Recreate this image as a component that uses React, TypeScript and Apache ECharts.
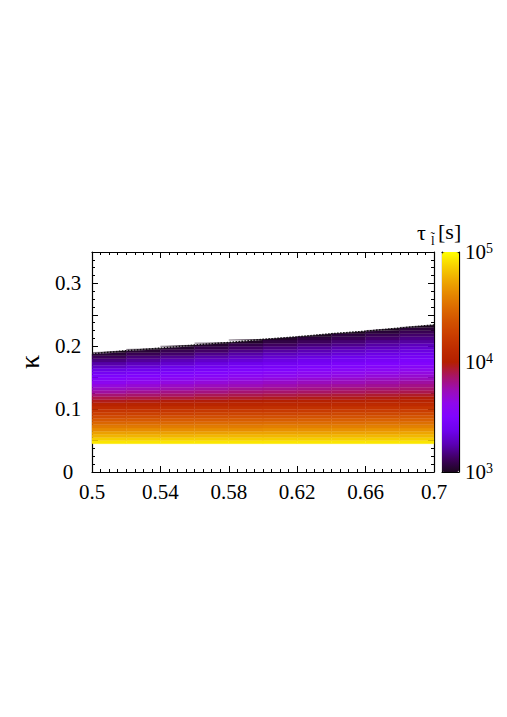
import React, { useEffect, useRef } from "react";
import * as echarts from "echarts";

// Column edges (x) and the upper boundary of the coloured region at each edge (kappa)
const xEdges = [0.5, 0.52, 0.54, 0.56, 0.58, 0.6, 0.62, 0.64, 0.66, 0.68, 0.7];
const kappaTop = [0.188, 0.193, 0.197, 0.202, 0.206, 0.211, 0.215, 0.22, 0.224, 0.229, 0.234];
const kappaBottom = 0.045;
const kappaStep = 0.005;

// log10(tau [s]) per column, rows from kappa = 0.045 upward in steps of 0.005
const logTauCols = [
  [4.93, 4.86, 4.78, 4.71, 4.63, 4.56, 4.48, 4.41, 4.33, 4.26, 4.19, 4.11, 4.04, 3.97, 3.91, 3.85, 3.78, 3.72, 3.66, 3.6, 3.54, 3.48, 3.42, 3.36, 3.29, 3.23, 3.17, 3.11, 3.05, 2.99],
  [4.93, 4.86, 4.78, 4.71, 4.64, 4.56, 4.49, 4.41, 4.34, 4.27, 4.19, 4.12, 4.05, 3.98, 3.92, 3.86, 3.8, 3.74, 3.68, 3.63, 3.57, 3.51, 3.45, 3.39, 3.33, 3.27, 3.21, 3.16, 3.1, 3.04, 2.98],
  [4.93, 4.86, 4.78, 4.71, 4.64, 4.57, 4.49, 4.42, 4.35, 4.27, 4.2, 4.13, 4.05, 3.99, 3.93, 3.87, 3.82, 3.76, 3.71, 3.65, 3.59, 3.54, 3.48, 3.42, 3.37, 3.31, 3.26, 3.2, 3.14, 3.09, 3.03, 2.97],
  [4.93, 4.86, 4.79, 4.71, 4.64, 4.57, 4.5, 4.42, 4.35, 4.28, 4.21, 4.14, 4.06, 3.99, 3.94, 3.89, 3.83, 3.78, 3.73, 3.67, 3.62, 3.56, 3.51, 3.46, 3.4, 3.35, 3.3, 3.24, 3.19, 3.13, 3.08, 3.03, 2.97],
  [4.93, 4.86, 4.79, 4.72, 4.64, 4.57, 4.5, 4.43, 4.36, 4.29, 4.22, 4.14, 4.07, 4.0, 3.95, 3.9, 3.85, 3.8, 3.74, 3.69, 3.64, 3.59, 3.54, 3.49, 3.44, 3.38, 3.33, 3.28, 3.23, 3.18, 3.13, 3.08, 3.02, 2.97],
  [4.93, 4.86, 4.79, 4.72, 4.65, 4.58, 4.51, 4.43, 4.36, 4.29, 4.22, 4.15, 4.08, 4.01, 3.96, 3.91, 3.86, 3.81, 3.76, 3.71, 3.66, 3.61, 3.56, 3.51, 3.46, 3.41, 3.36, 3.32, 3.27, 3.22, 3.17, 3.12, 3.07, 3.02],
  [4.93, 4.86, 4.79, 4.72, 4.65, 4.58, 4.51, 4.44, 4.37, 4.3, 4.23, 4.16, 4.09, 4.02, 3.97, 3.92, 3.87, 3.82, 3.78, 3.73, 3.68, 3.63, 3.59, 3.54, 3.49, 3.44, 3.4, 3.35, 3.3, 3.25, 3.21, 3.16, 3.11, 3.06, 3.01],
  [4.93, 4.86, 4.79, 4.72, 4.65, 4.58, 4.51, 4.44, 4.37, 4.31, 4.24, 4.17, 4.1, 4.03, 3.97, 3.93, 3.88, 3.84, 3.79, 3.74, 3.7, 3.65, 3.61, 3.56, 3.52, 3.47, 3.42, 3.38, 3.33, 3.29, 3.24, 3.19, 3.15, 3.1, 3.06, 3.01],
  [4.93, 4.86, 4.79, 4.72, 4.66, 4.59, 4.52, 4.45, 4.38, 4.31, 4.24, 4.18, 4.11, 4.04, 3.98, 3.94, 3.89, 3.85, 3.8, 3.76, 3.72, 3.67, 3.63, 3.58, 3.54, 3.49, 3.45, 3.41, 3.36, 3.32, 3.27, 3.23, 3.19, 3.14, 3.1, 3.05, 3.01],
  [4.93, 4.86, 4.79, 4.73, 4.66, 4.59, 4.52, 4.45, 4.39, 4.32, 4.25, 4.18, 4.11, 4.05, 3.99, 3.95, 3.9, 3.86, 3.82, 3.78, 3.73, 3.69, 3.65, 3.61, 3.56, 3.52, 3.48, 3.44, 3.39, 3.35, 3.31, 3.27, 3.22, 3.18, 3.14, 3.1, 3.05, 3.01],
];

// colour bar (log10 tau) range and its minor tick values (tau in s)
const cbMin = 3;
const cbMax = 5;
const cbMinorTicks = [2000, 3000, 4000, 5000, 6000, 7000, 8000, 9000, 20000, 30000, 40000, 50000, 60000, 70000, 80000, 90000];

const PALETTE = [
  "#1c0620", "#400062", "#5a00b4", "#6e02ec", "#8004ff", "#8f08ec", "#9c0db4", "#a91562",
  "#b42000", "#bf2d00", "#ca3e00", "#d35300", "#dd6c00", "#e68900", "#efab00", "#f7d200", "#ffff00",
];

const FONT = "Liberation Serif";

export default function App() {
  const ref = useRef<HTMLDivElement>(null);
  useEffect(() => {
    if (!ref.current) return;
    const chart = echarts.init(ref.current, null, { renderer: "svg" });

    const cells: number[][] = [];
    logTauCols.forEach((col, c) => {
      col.forEach((v, j) => {
        cells.push([(xEdges[c] + xEdges[c + 1]) / 2, kappaBottom + (j + 0.5) * kappaStep, v, c, j]);
      });
    });

    const axisLine = { show: true, onZero: false, lineStyle: { color: "#000", width: 1.2 } };
    const tick = (len: number) => ({ show: true, inside: true, length: len, lineStyle: { color: "#000", width: 1 } });
    const minor = (n: number) => ({ show: true, splitNumber: n, length: 3, lineStyle: { color: "#000", width: 1 } });
    const label = { color: "#000", fontFamily: FONT, fontSize: 21 };

    const option: any = {
      animation: false,
      backgroundColor: "#fff",
      textStyle: { fontFamily: FONT },
      grid: [
        { left: 92, top: 252, width: 342, height: 220 },
        { left: 442, top: 252, width: 17, height: 220 },
      ],
      xAxis: [
        {
          gridIndex: 0, type: "value", min: 0.5, max: 0.7, interval: 0.04, position: "bottom",
          axisLine, axisTick: tick(6), minorTick: minor(8), splitLine: { show: false },
          axisLabel: { ...label, margin: 9 },
        },
        {
          gridIndex: 0, type: "value", min: 0.5, max: 0.7, interval: 0.04, position: "top",
          axisLine, axisTick: tick(6), minorTick: minor(8), splitLine: { show: false },
          axisLabel: { show: false },
        },
        {
          gridIndex: 1, type: "value", min: 0, max: 1, position: "bottom",
          axisLine, axisTick: { show: false }, splitLine: { show: false }, axisLabel: { show: false },
        },
        {
          gridIndex: 1, type: "value", min: 0, max: 1, position: "top",
          axisLine, axisTick: { show: false }, splitLine: { show: false }, axisLabel: { show: false },
        },
      ],
      yAxis: [
        {
          gridIndex: 0, type: "value", min: 0, max: 0.35, interval: 0.05, position: "left",
          axisLine, axisTick: tick(6), minorTick: minor(4), splitLine: { show: false },
          axisLabel: {
            ...label, margin: 24, align: "center",
            formatter: (v: number) => {
              const r = Math.round(v * 100);
              if (r % 10 !== 0 || r === 35) return "";
              return String(r / 100);
            },
          },
          name: "κ", nameLocation: "middle", nameGap: 48,
          nameTextStyle: { color: "#000", fontFamily: FONT, fontSize: 28 },
        },
        {
          gridIndex: 0, type: "value", min: 0, max: 0.35, interval: 0.05, position: "right",
          axisLine, axisTick: tick(6), minorTick: minor(4), splitLine: { show: false },
          axisLabel: { show: false },
        },
        {
          gridIndex: 1, type: "value", min: cbMin, max: cbMax, interval: 1, position: "right",
          axisLine, axisTick: tick(5), splitLine: { show: false },
          axisLabel: {
            color: "#000", margin: 6,
            formatter: (v: number) => `{b|10}{s|${Math.round(v)}}`,
            rich: {
              b: { fontFamily: FONT, fontSize: 21, color: "#000" },
              s: { fontFamily: FONT, fontSize: 14, color: "#000", verticalAlign: "top" },
            },
          },
        },
        {
          gridIndex: 1, type: "value", min: cbMin, max: cbMax, interval: 1, position: "left",
          axisLine, axisTick: tick(5), splitLine: { show: false }, axisLabel: { show: false },
        },
      ],
      visualMap: {
        type: "continuous", min: cbMin, max: cbMax, dimension: 2, seriesIndex: 0,
        inRange: { color: PALETTE }, outOfRange: { color: ["#1c0620"] },
        calculable: false, orient: "vertical", left: 442, top: 252,
        itemWidth: 17, itemHeight: 220, padding: 0, hoverLink: false,
      },
      series: [
        {
          type: "custom", xAxisIndex: 0, yAxisIndex: 0, data: cells, encode: { x: 0, y: 1 },
          silent: true,
          renderItem: (_p: any, api: any) => {
            const c = api.value(3);
            const j = api.value(4);
            const x0 = xEdges[c];
            const x1 = xEdges[c + 1];
            const kb = kappaBottom + j * kappaStep;
            const kt = kb + kappaStep;
            const tl = Math.max(kb, Math.min(kt, kappaTop[c]));
            const tr = Math.max(kb, Math.min(kt, kappaTop[c + 1]));
            const pts = [api.coord([x0, kb]), api.coord([x1, kb]), api.coord([x1, tr]), api.coord([x0, tl])];
            const col = api.visual("color");
            return { type: "polygon", shape: { points: pts }, style: { fill: col, stroke: col, lineWidth: 0.3 } };
          },
        },
        {
          type: "line", xAxisIndex: 0, yAxisIndex: 0, silent: true, symbol: "none",
          data: xEdges.map((x, i) => [x, kappaTop[i]]),
          lineStyle: { color: "#111", width: 1.5, type: "dotted" },
        },
        {
          type: "custom", xAxisIndex: 2, yAxisIndex: 2, silent: true,
          data: cbMinorTicks.map((v) => [0.5, Math.log10(v)]), encode: { x: 0, y: 1 },
          renderItem: (_p: any, api: any) => {
            const lv = api.value(1);
            const a = api.coord([0, lv]);
            const b = api.coord([1, lv]);
            return {
              type: "group",
              children: [
                { type: "line", shape: { x1: a[0], y1: a[1], x2: a[0] + 3, y2: a[1] }, style: { stroke: "#000", lineWidth: 1 } },
                { type: "line", shape: { x1: b[0] - 3, y1: b[1], x2: b[0], y2: b[1] }, style: { stroke: "#000", lineWidth: 1 } },
              ],
            };
          },
        },
      ],
      graphic: [
        { type: "text", x: 417, y: 232, style: { text: "τ", font: `22px ${FONT}`, fill: "#000", verticalAlign: "middle" } },
        { type: "text", x: 431, y: 240, style: { text: "l̃", font: `13px ${FONT}`, fill: "#000", verticalAlign: "middle" } },
        { type: "text", x: 438, y: 231, style: { text: "[s]", font: `22px ${FONT}`, fill: "#000", verticalAlign: "middle" } },
      ],
    };
    chart.setOption(option);
    return () => chart.dispose();
  }, []);
  return <div ref={ref} style={{ position: "absolute", left: 0, top: 0, width: 507, height: 717 }} />;
}
